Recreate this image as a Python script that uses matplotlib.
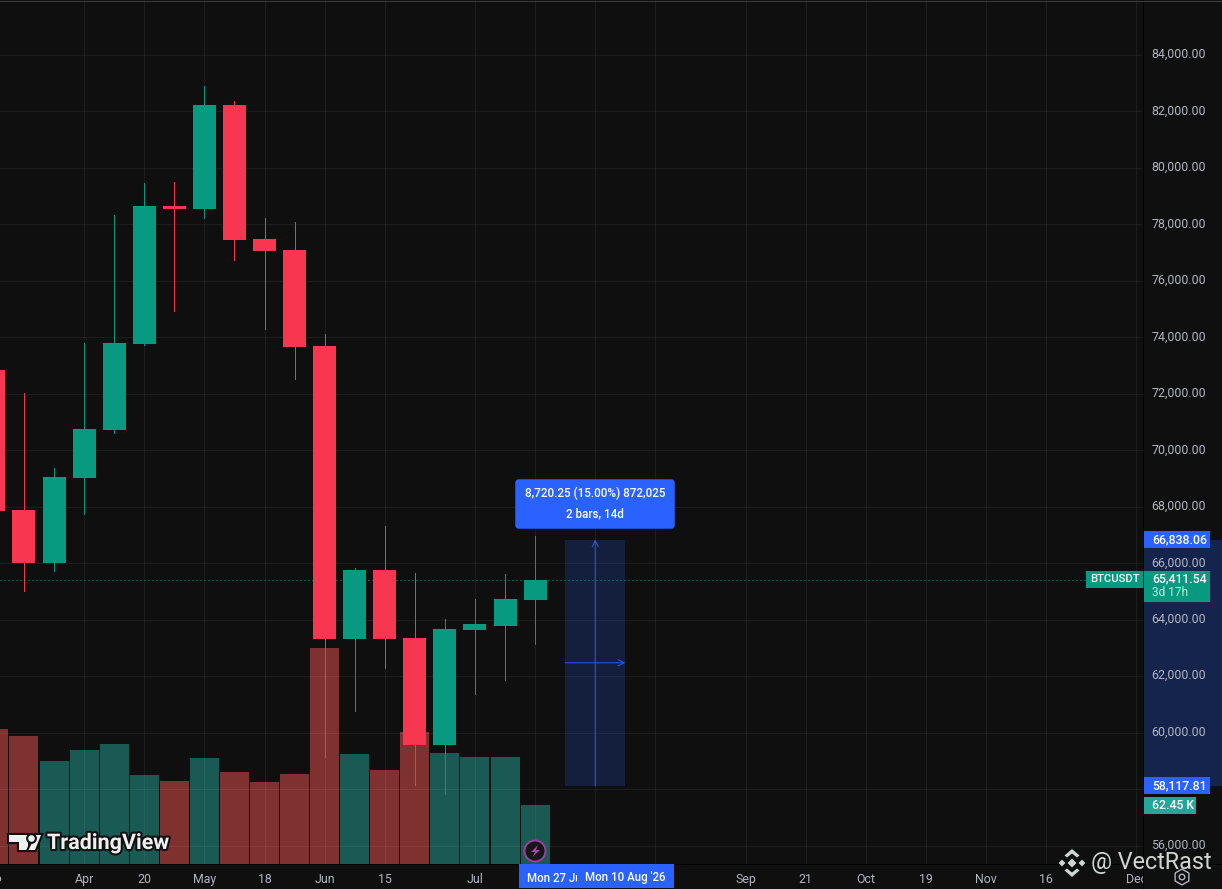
import matplotlib
matplotlib.use("Agg")
import matplotlib.pyplot as plt
import matplotlib.patheffects as pe
from matplotlib.patches import Rectangle, Polygon, Circle, FancyBboxPatch
from matplotlib.transforms import ScaledTranslation

plt.rcParams['font.family'] = ['Roboto', 'DejaVu Sans']

# ---------- data ----------
bar_index = list(range(-1, 18))
opens = [72845, 67887, 66011, 69020, 70720, 73765, 78652, 78546, 82228, 77483, 77094,
         73695, 63319, 65763, 63355, 59566, 63638, 63780, 64700]
highs = [73400, 72030, 69375, 73801, 78333, 79466, 79502, 82901, 82370, 78227, 78085,
         74120, 65834, 67321, 65657, 64028, 64736, 65621, 66967]
lows = [67000, 65019, 65727, 67746, 70614, 73730, 74934, 78227, 76740, 74297, 72526,
        59141, 60770, 62293, 58150, 57831, 61372, 61868, 63142]
closes = [67852, 66011, 69056, 70756, 73801, 78652, 78546, 82228, 77448, 77058, 73659,
          63319, 65763, 63319, 59566, 63674, 63851, 64736, 65411.54]
volumes_k = [143, 135.5, 109, 120.7, 127, 94.2, 87.9, 112.2, 97.4, 86.8, 95.3,
             228.6, 116.4, 99.5, 139.7, 117.5, 113.3, 113.3, 62.45]

price_ticks = list(range(56000, 86000, 2000))
price_labels = ['' if p == 58000 else f'{p:,.2f}' for p in price_ticks]
time_ticks = [-1, 2, 4, 6, 8, 10, 12, 15, 17, 19, 21, 24, 26, 28, 30, 32, 34, 37]
time_labels = ['16', 'Apr', '20', 'May', '18', 'Jun', '15', 'Jul', '', '', '',
               'Sep', '21', 'Oct', '19', 'Nov', '16', 'Dec']

range_low = 58117.81
range_high = 66838.06
range_start = 18
range_end = 20
last_price = 65411.54
tooltip_lines = ['8,720.25 (15.00%) 872,025', '2 bars, 14d']

# ---------- colours ----------
BG = '#0f0f0f'
UP = '#089981'
DOWN = '#f7374f'
VOL_UP = '#26a69a'
VOL_DOWN = '#ef5350'
BLUE = '#2962ff'
TXT = '#b2b5be'
W, H = 1222, 889
AX_W, AX_H = 1143, 864
XLIM = (-0.798, 37.22)
YLIM = (55352, 85947)
PX = 0.72

fig = plt.figure(figsize=(W / 100, H / 100), dpi=100, facecolor=BG)
pos = [0, 1 - AX_H / H, AX_W / W, AX_H / H]

# volume layer
vx = fig.add_axes(pos, zorder=1, facecolor=BG)
vx.set_xlim(*XLIM)
vx.set_ylim(0, 914.5)
vx.axis('off')
vcols = [VOL_UP if c >= o else VOL_DOWN for o, c in zip(opens, closes)]
vx.bar(bar_index, volumes_k, width=0.965, color=vcols, alpha=0.5, linewidth=0)

# price layer
ax = fig.add_axes(pos, zorder=2)
ax.patch.set_alpha(0)
ax.yaxis.tick_right()
ax.set_yticks(price_ticks)
ax.set_yticklabels(price_labels)
ax.set_xticks(time_ticks)
ax.set_xticklabels(time_labels)
ax.set_xlim(*XLIM)
ax.set_ylim(*YLIM)
ax.tick_params(axis='y', length=0, pad=6, labelsize=8.9, labelcolor=TXT)
ax.tick_params(axis='x', length=0, pad=6.5, labelsize=8.9, labelcolor=TXT)
for lbl in ax.get_yticklabels():
    lbl.set_transform(lbl.get_transform() + ScaledTranslation(0, 2 / 100, fig.dpi_scale_trans))
ax.grid(True, color='white', alpha=0.06, linewidth=PX, snap=True)
ax.set_axisbelow(True)
for s in ax.spines.values():
    s.set_visible(False)

cols = [UP if c >= o else DOWN for o, c in zip(opens, closes)]
wicks = ax.vlines(bar_index, lows, highs, colors=cols, linewidth=PX * 0.7, zorder=3)
wicks.set_antialiased(False)
ax.bar(bar_index, [abs(c - o) for o, c in zip(opens, closes)],
       bottom=[min(o, c) for o, c in zip(opens, closes)],
       width=0.765, color=cols, linewidth=0, zorder=4)

# position tool
ax.add_patch(Rectangle((range_start, range_low), range_end - range_start, range_high - range_low,
                       facecolor=BLUE, alpha=0.2, linewidth=0, zorder=2))
ax.add_patch(Rectangle((1, range_low), W / AX_W - 1, range_high - range_low,
                       transform=ax.get_yaxis_transform(), clip_on=False,
                       facecolor='#14244c', linewidth=0, zorder=0.2))
mid_x = (range_start + range_end) / 2
mid_y = (range_low + range_high) / 2
arrow = dict(arrowstyle='->', color='#2a5bd8', lw=PX, mutation_scale=11, shrinkA=0, shrinkB=0)
ax.annotate('', xy=(mid_x, range_high), xytext=(mid_x, range_low), arrowprops=arrow, zorder=5)
ax.annotate('', xy=(range_end, mid_y), xytext=(range_start, mid_y), arrowprops=arrow, zorder=5)

# last price dotted line
ax.plot([0, 1086 / AX_W], [last_price, last_price], transform=ax.get_yaxis_transform(),
        color=UP, lw=PX, linestyle=(0, (1, 3)), zorder=3, snap=True)

# ---------- overlay in figure pixels ----------
ov = fig.add_axes([0, 0, 1, 1], zorder=5)
ov.set_xlim(0, W)
ov.set_ylim(H, 0)
ov.axis('off')
ov.patch.set_alpha(0)


def price_y(p):
    xy = ax.transData.transform((0, p))
    return ov.transData.inverted().transform(xy)[1]


def tag(x0, x1, yc, h, color, text, tx=1152, size=8.8, tcolor='white', ha='left'):
    ov.add_patch(Rectangle((x0, yc - h / 2), x1 - x0, h, facecolor=color, linewidth=0))
    ov.text(tx, yc, text, color=tcolor, fontsize=size, ha=ha, va='center', fontweight='medium')


# axis panels and separators
ov.add_patch(Rectangle((AX_W, AX_H), W - AX_W, H - AX_H, facecolor=BG, linewidth=0))
ov.plot([AX_W, AX_W], [0, H], color='#000000', lw=PX, snap=True)
ov.plot([0, W], [AX_H, AX_H], color='#000000', lw=PX, snap=True)
ov.plot([0, W], [0.5, 0.5], color='#3a3a3a', lw=PX, snap=True)

# sliver of the tick label that runs off the left edge
ov.text(2, 878, '16', color=TXT, fontsize=8.9, ha='right', va='center', clip_on=True)

tag(1144, 1210, price_y(range_high), 17, BLUE, f'{range_high:,.2f}')
tag(1144, 1210, price_y(range_low), 17, BLUE, f'{range_low:,.2f}')
ov.add_patch(Rectangle((1144, 571), 66, 31, facecolor=UP, linewidth=0))
ov.text(1152, 579, f'{last_price:,.2f}', color='white', fontsize=8.8, va='center', fontweight='medium')
ov.text(1152, 593, '3d 17h', color='#c4e6de', fontsize=8.6, va='center')
tag(1086, 1143, 579.5, 17, UP, 'BTCUSDT', tx=1114.5, ha='center', size=8.1)
tag(1144, 1196, 805.5, 17, '#26a69a', '62.45 K', size=8.8)

# date labels
ov.add_patch(Rectangle((519, 864), 155, 24, facecolor=BLUE, linewidth=0, zorder=4))
ov.text(527, 878, 'Mon 27 Jul', color='white', fontsize=8.3, va='center', fontweight='medium', zorder=4.1)
ov.add_patch(Rectangle((577, 864), 97, 24, facecolor=BLUE, linewidth=0, zorder=4.2))
ov.text(585, 878, "Mon 10 Aug '26", color='white', fontsize=8.3, va='center', fontweight='medium', zorder=4.3)

# tooltip
ov.add_patch(FancyBboxPatch((517, 481), 156, 46, boxstyle='round,pad=0,rounding_size=2',
                            facecolor=BLUE, edgecolor=BLUE, linewidth=2.5))
ov.text(595, 493.5, tooltip_lines[0], color='white', fontsize=8.4, ha='center', va='center', fontweight='medium')
ov.text(595, 514, tooltip_lines[1], color='white', fontsize=8.4, ha='center', va='center', fontweight='medium')

# TradingView mark
outline = [pe.Stroke(linewidth=3, foreground='#111111'), pe.Normal()]
for shape in ([(9, 835), (28, 835), (28, 850), (19, 850), (19, 842), (9, 842)],
              [(36, 835), (41, 835), (35, 850), (28.5, 850)]):
    p = Polygon(shape, closed=True, facecolor='#f0f0f0', linewidth=0, zorder=6)
    p.set_path_effects(outline)
    ov.add_patch(p)
c = Circle((31.5, 838.5), 3.3, facecolor='#f0f0f0', linewidth=0, zorder=6)
c.set_path_effects(outline)
ov.add_patch(c)
ov.text(47, 843, 'TradingView', color='#f0f0f0', fontsize=15.5, fontweight='bold', va='center', zorder=6,
        path_effects=[pe.withStroke(linewidth=3, foreground='#111111')])

# lightning marker
ov.add_patch(Circle((535, 851), 10.5, facecolor='#161616', edgecolor='#9c3fa0', linewidth=1.4, zorder=6))
ov.add_patch(Polygon([(538, 845), (531, 852), (535, 852), (532.5, 857), (540, 850), (536, 850)],
                     closed=True, facecolor='#a945ad', linewidth=0, zorder=7))

# settings icon
ov.scatter([1182], [877], marker='h', s=130, facecolor='none', edgecolor='#b2b5be', linewidth=1, zorder=6)
ov.scatter([1182], [877], marker='o', s=16, facecolor='none', edgecolor='#b2b5be', linewidth=1, zorder=6)

# VectRast watermark
LOGO = '#cfd6d2'
for cx, cy, r in [(1072, 863, 4.5), (1062, 863, 3.4), (1082, 863, 3.4)]:
    ov.add_patch(Polygon([(cx - r, cy), (cx, cy - r), (cx + r, cy), (cx, cy + r)], closed=True,
                         facecolor=LOGO, linewidth=0, zorder=7))
for sgn in (-1, 1):
    ov.add_patch(Polygon([(1064.5, 863 + sgn * 7.5), (1072, 863 + sgn * 14), (1079.5, 863 + sgn * 7.5),
                          (1077, 863 + sgn * 5.5), (1072, 863 + sgn * 9.5), (1067, 863 + sgn * 5.5)],
                         closed=True, facecolor=LOGO, linewidth=0, zorder=7))
ov.text(1091, 862, '@ VectRast', color=LOGO, fontsize=16.8, va='center', zorder=7)

fig.savefig('out.png', dpi=100, facecolor=BG)
